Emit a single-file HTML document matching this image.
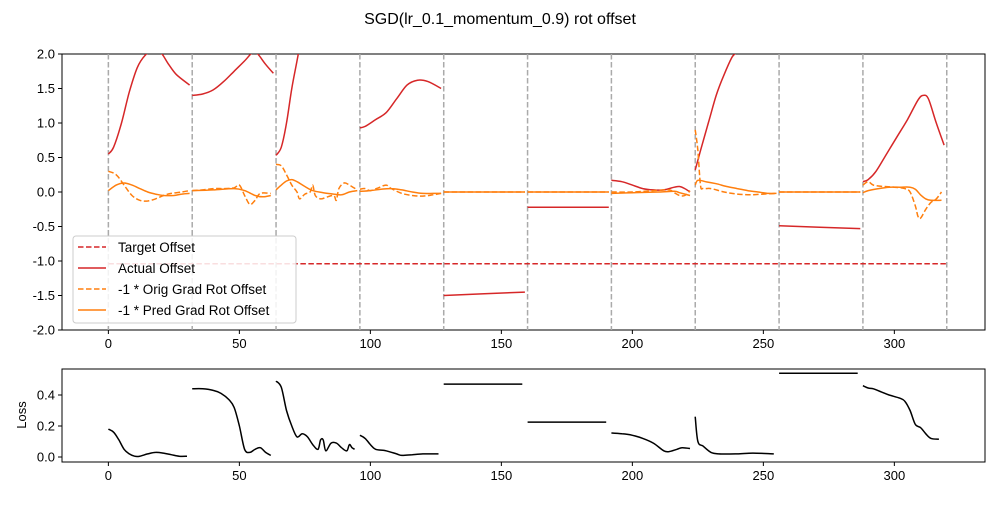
<!DOCTYPE html>
<html><head><meta charset="utf-8"><style>
body{margin:0;background:#fff;}
svg text{font-family:"Liberation Sans","DejaVu Sans",sans-serif;}
</style></head><body>
<svg id="chart" width="1000" height="500" xmlns="http://www.w3.org/2000/svg">
<rect width="1000" height="500" fill="#fff"/>
<defs>
<clipPath id="c1"><rect x="62" y="54" width="923" height="276"/></clipPath>
<clipPath id="c2"><rect x="62" y="369" width="923" height="93"/></clipPath>
</defs>
<text x="500" y="24" font-size="16" text-anchor="middle">SGD(lr_0.1_momentum_0.9) rot offset</text>
<g id="topplot"></g>
<g id="botplot"></g>
<text transform="translate(26,415) rotate(-90)" font-size="13" text-anchor="middle">Loss</text>
</svg>
<script>
const xTicks=[0,50,100,150,200,250,300];
const topTicks=[2.0,1.5,1.0,0.5,0.0,-0.5,-1.0,-1.5,-2.0];
const botTicks=[0.0,0.2,0.4];
const boundaries=[0,32,64,96,128,160,192,224,256,288,320];
const targetValue=-1.04;
const actualSegs=[
[[0,0.55],[2,0.65],[5,1.0],[8,1.45],[11,1.8],[14,1.98],[17,2.05],[20,2.02],[23,1.85],[26,1.7],[31,1.55]],
[[32,1.4],[36,1.42],[40,1.48],[44,1.6],[48,1.75],[52,1.9],[55,2.02],[57,2.0],[60,1.85],[63,1.72]],
[[64,0.53],[66,0.65],[68,1.0],[70,1.5],[72,1.9],[74,2.3],[76,2.7],[80,3],[95,3]],
[[96,0.93],[98,0.95],[102,1.05],[106,1.15],[110,1.35],[114,1.55],[118,1.62],[122,1.6],[127,1.5]],
[[128,-1.5],[159,-1.45]],
[[160,-0.22],[191,-0.22]],
[[192,0.17],[196,0.15],[200,0.1],[204,0.05],[208,0.03],[212,0.03],[216,0.07],[218,0.08],[220,0.05],[222,0.0]],
[[224,0.32],[226,0.6],[229,1.0],[232,1.4],[235,1.7],[238,1.95],[240,2.05],[244,2.4],[255,3]],
[[256,-0.49],[287,-0.53]],
[[288,0.15],[290,0.18],[293,0.3],[297,0.55],[301,0.8],[305,1.05],[309,1.33],[311,1.4],[313,1.35],[316,1.0],[319,0.68]]];
const origSegs=[
[[0,0.3],[3,0.25],[6,0.1],[9,-0.05],[12,-0.12],[15,-0.13],[18,-0.1],[21,-0.05],[24,-0.02],[28,0.0],[31,0.02]],
[[32,0.02],[36,0.03],[40,0.05],[44,0.05],[48,0.06],[50,0.1],[52,-0.05],[54,-0.18],[56,-0.12],[58,-0.02],[62,-0.02]],
[[64,0.4],[66,0.38],[68,0.25],[70,0.1],[72,0.0],[73,-0.1],[75,-0.03],[77,0.0],[78,0.1],[79,-0.05],[81,-0.1],[83,-0.08],[86,-0.05],[87,-0.12],[88,0.05],[90,0.13],[92,0.1],[95,0.03]],
[[96,0.04],[98,0.05],[100,0.02],[103,0.06],[106,0.1],[108,0.05],[112,-0.02],[116,-0.05],[120,-0.06],[124,-0.04],[127,-0.02]],
[[128,0.0],[159,0.0]],
[[160,0.0],[191,0.0]],
[[192,0.0],[200,0.0],[208,0.02],[214,0.03],[216,-0.01],[218,-0.05],[220,-0.05],[222,0.02]],
[[224,0.9],[225,0.6],[226,0.1],[227,0.05],[230,0.05],[235,0.0],[240,-0.03],[245,-0.04],[250,-0.03],[255,-0.02]],
[[256,0.0],[287,0.0]],
[[288,0.1],[290,0.15],[292,0.1],[296,0.08],[300,0.07],[304,0.05],[306,0.0],[308,-0.2],[309,-0.35],[310,-0.38],[312,-0.25],[314,-0.15],[316,-0.1],[318,0.0]]];
const predSegs=[
[[0,0.02],[3,0.1],[6,0.13],[9,0.1],[12,0.05],[15,0.0],[18,-0.03],[21,-0.05],[25,-0.05],[28,-0.03],[31,-0.02]],
[[32,0.02],[40,0.03],[48,0.05],[52,0.02],[56,-0.05],[59,-0.07],[62,-0.05]],
[[64,0.03],[66,0.1],[68,0.16],[70,0.18],[72,0.15],[75,0.08],[78,0.02],[82,-0.01],[86,-0.03],[89,-0.04],[92,0.0],[95,0.02]],
[[96,0.01],[100,0.02],[104,0.04],[108,0.05],[112,0.03],[116,0.0],[120,-0.02],[124,-0.02],[127,-0.02]],
[[128,0.0],[159,0.0]],
[[160,0.0],[191,0.0]],
[[192,-0.02],[200,-0.01],[210,0.0],[216,0.01],[218,-0.01],[222,-0.05]],
[[224,0.1],[225,0.17],[228,0.15],[232,0.12],[236,0.08],[240,0.05],[244,0.02],[248,0.0],[252,-0.02],[255,-0.02]],
[[256,0.0],[287,0.0]],
[[288,-0.01],[290,0.02],[294,0.05],[298,0.07],[302,0.07],[306,0.07],[308,0.04],[310,-0.04],[312,-0.1],[314,-0.12],[318,-0.12]]];
const lossSegs=[
[[0,0.18],[2,0.16],[4,0.11],[6,0.05],[8,0.02],[10,0.005],[12,0.005],[15,0.02],[18,0.03],[21,0.025],[24,0.015],[27,0.005],[30,0.005]],
[[32,0.44],[36,0.44],[40,0.43],[43,0.41],[46,0.37],[48,0.32],[50,0.2],[52,0.05],[54,0.03],[56,0.05],[58,0.06],[60,0.03],[62,0.01]],
[[64,0.49],[66,0.45],[68,0.3],[70,0.2],[72,0.13],[74,0.15],[76,0.13],[78,0.08],[80,0.05],[81,0.11],[82,0.11],[83,0.04],[85,0.09],[87,0.09],[89,0.06],[91,0.04],[92,0.08],[93,0.06],[94,0.05]],
[[96,0.14],[98,0.12],[100,0.08],[102,0.05],[106,0.04],[110,0.02],[112,0.01],[116,0.015],[120,0.02],[124,0.02],[126,0.02]],
[[128,0.47],[158,0.47]],
[[160,0.225],[190,0.225]],
[[192,0.155],[196,0.15],[200,0.14],[204,0.12],[208,0.09],[212,0.04],[214,0.035],[217,0.05],[219,0.06],[222,0.055]],
[[224,0.26],[225,0.1],[227,0.07],[230,0.03],[233,0.02],[240,0.02],[246,0.025],[254,0.02]],
[[256,0.54],[286,0.54]],
[[288,0.46],[290,0.445],[292,0.44],[295,0.42],[298,0.40],[302,0.38],[304,0.36],[306,0.3],[308,0.21],[310,0.19],[312,0.15],[314,0.12],[317,0.115]]];

const NS="http://www.w3.org/2000/svg";
const X0=62,X1=985,XMIN=-17.7,XMAX=334.6;
function xs(v){return X0+(v-XMIN)/(XMAX-XMIN)*(X1-X0);}
function yTop(v){return 330-(v+2)/4*276;}
function yBot(v){return 457-v*155;}
function mk(tag,attrs,parent){const e=document.createElementNS(NS,tag);for(const k in attrs)e.setAttribute(k,attrs[k]);parent.appendChild(e);return e;}
const topG=document.getElementById('topplot'),botG=document.getElementById('botplot');
function pathD(pts,ys){
  const P=pts.map(p=>[xs(p[0]),ys(p[1])]);
  let d='M'+P[0][0].toFixed(1)+','+P[0][1].toFixed(1);
  for(let i=0;i<P.length-1;i++){
    const p0=P[i-1]||P[i],p1=P[i],p2=P[i+1],p3=P[i+2]||P[i+1];
    const c1=[p1[0]+(p2[0]-p0[0])/6,p1[1]+(p2[1]-p0[1])/6];
    const c2=[p2[0]-(p3[0]-p1[0])/6,p2[1]-(p3[1]-p1[1])/6];
    d+='C'+c1[0].toFixed(1)+','+c1[1].toFixed(1)+' '+c2[0].toFixed(1)+','+c2[1].toFixed(1)+' '+p2[0].toFixed(1)+','+p2[1].toFixed(1);
  }
  return d;
}

function axes(g,yt,ys,y1,y2){
  mk('rect',{x:X0,y:y1,width:X1-X0,height:y2-y1,fill:'none',stroke:'#000','stroke-width':1},g);
  xTicks.forEach(t=>{
    const l=mk('line',{x1:xs(t),x2:xs(t),y1:y2,y2:y2+4,stroke:'#000'},g);
    
    
    const tx=mk('text',{x:xs(t),y:y2+18,'font-size':13,'text-anchor':'middle'},g);
    tx.textContent=t;
    
    
  });
  yt.forEach(t=>{
    const l=mk('line',{x1:X0-4,x2:X0,y1:ys(t),y2:ys(t),stroke:'#000'},g);
    
    
    const tx=mk('text',{x:X0-7,y:ys(t)+4.5,'font-size':13,'text-anchor':'end'},g);
    tx.textContent=t.toFixed(1);
    
    
  });
}
axes(topG,topTicks,yTop,54,330);
axes(botG,botTicks,yBot,369,462);

const tc=mk('g',{'clip-path':'url(#c1)'},topG);
boundaries.forEach(b=>{
  const l=mk('line',{x1:xs(b),x2:xs(b),y1:54,y2:330,stroke:'#aaaaaa','stroke-width':1.5,'stroke-dasharray':'5.5,2.5'},tc);
  
  
});
const tl=mk('path',{d:'M'+xs(boundaries[0])+','+yTop(targetValue)+'L'+xs(boundaries[boundaries.length-1])+','+yTop(targetValue),stroke:'#d62728','stroke-width':1.5,fill:'none','stroke-dasharray':'5.5,2.5'},tc);


actualSegs.forEach(s=>{const p=mk('path',{d:pathD(s,yTop),stroke:'#d62728','stroke-width':1.5,fill:'none'},tc);

});
origSegs.forEach(s=>{const p=mk('path',{d:pathD(s,yTop),stroke:'#ff7f0e','stroke-width':1.5,fill:'none','stroke-dasharray':'5.5,2.5'},tc);

});
predSegs.forEach(s=>{const p=mk('path',{d:pathD(s,yTop),stroke:'#ff7f0e','stroke-width':1.5,fill:'none'},tc);

});
const bc=mk('g',{'clip-path':'url(#c2)'},botG);
lossSegs.forEach(s=>{const p=mk('path',{d:pathD(s,yBot),stroke:'#000','stroke-width':1.5,fill:'none'},bc);

});

const lg=mk('g',{},topG);


mk('rect',{x:73,y:236,width:223,height:87,rx:3,fill:'#fff','fill-opacity':0.85,stroke:'#ccc'},lg);
const items=[['Target Offset','#d62728','5.5,2.5'],['Actual Offset','#d62728',''],['-1 * Orig Grad Rot Offset','#ff7f0e','5.5,2.5'],['-1 * Pred Grad Rot Offset','#ff7f0e','']];
items.forEach((it,i)=>{
  const y=247+i*21;
  const l=mk('line',{x1:78,x2:106,y1:y,y2:y,stroke:it[1],'stroke-width':1.5},lg);
  if(it[2])l.setAttribute('stroke-dasharray',it[2]);
  const t=mk('text',{x:118,y:y+5,'font-size':13.5},lg);
  t.textContent=it[0];
  
  
});
</script>
</body></html>
